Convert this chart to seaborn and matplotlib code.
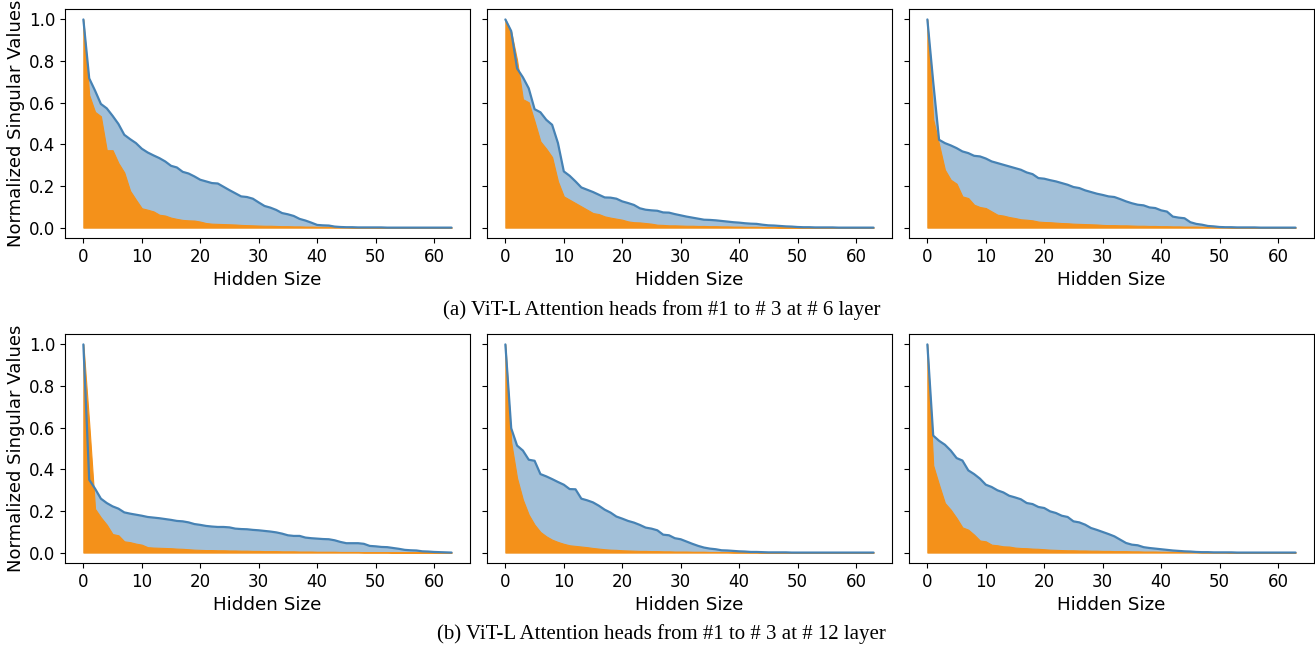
import numpy as np
import matplotlib
matplotlib.use("Agg")
import matplotlib.pyplot as plt
import seaborn as sns

# индексы скрытой размерности
hidden = list(range(64))

# (a) слой 6, головы 1-3: синие (исходные) и оранжевые значения
l6_h1_blue = [1.0, 0.717, 0.658, 0.594, 0.573, 0.537, 0.498, 0.446, 0.425, 0.406,
              0.379, 0.361, 0.347, 0.334, 0.318, 0.297, 0.289, 0.268, 0.260, 0.246,
              0.230, 0.222, 0.214, 0.212, 0.196, 0.180, 0.165, 0.150, 0.147, 0.139,
              0.121, 0.104, 0.096, 0.085, 0.070, 0.064, 0.056, 0.042, 0.034, 0.024,
              0.013, 0.011, 0.010, 0.005, 0.003, 0.002, 0.002, 0.001, 0.001, 0.001,
              0.001, 0.001, 0.0, 0.0, 0.0, 0.0, 0.0, 0.0, 0.0, 0.0,
              0.0, 0.0, 0.0, 0.0]
l6_h1_orange = [1.0, 0.637, 0.556, 0.535, 0.372, 0.372, 0.310, 0.265, 0.177, 0.134,
                0.093, 0.086, 0.078, 0.062, 0.058, 0.048, 0.042, 0.037, 0.035, 0.034,
                0.029, 0.022, 0.019, 0.018, 0.017, 0.016, 0.015, 0.013, 0.012, 0.011,
                0.010, 0.009, 0.009, 0.008, 0.007, 0.007, 0.006, 0.006, 0.005, 0.005,
                0.004, 0.004, 0.004, 0.003, 0.003, 0.003, 0.002, 0.002, 0.002, 0.002,
                0.002, 0.001, 0.001, 0.001, 0.001, 0.001, 0.001, 0.001, 0.001, 0.0,
                0.0, 0.0, 0.0, 0.0]

l6_h2_blue = [1.0, 0.944, 0.765, 0.722, 0.669, 0.569, 0.554, 0.518, 0.494, 0.406,
              0.270, 0.249, 0.222, 0.193, 0.182, 0.171, 0.158, 0.145, 0.144, 0.139,
              0.126, 0.118, 0.109, 0.093, 0.086, 0.083, 0.081, 0.073, 0.072, 0.065,
              0.059, 0.053, 0.048, 0.043, 0.038, 0.037, 0.035, 0.032, 0.029, 0.026,
              0.024, 0.021, 0.019, 0.018, 0.014, 0.011, 0.010, 0.008, 0.006, 0.005,
              0.003, 0.002, 0.002, 0.001, 0.001, 0.001, 0.001, 0.0, 0.0, 0.0,
              0.0, 0.0, 0.0, 0.0]
l6_h2_orange = [1.0, 0.940, 0.805, 0.617, 0.602, 0.510, 0.414, 0.379, 0.339, 0.222,
                0.150, 0.134, 0.118, 0.102, 0.086, 0.070, 0.065, 0.054, 0.048, 0.043,
                0.038, 0.030, 0.026, 0.025, 0.022, 0.019, 0.014, 0.013, 0.011, 0.011,
                0.010, 0.009, 0.009, 0.008, 0.008, 0.007, 0.007, 0.006, 0.006, 0.005,
                0.005, 0.004, 0.004, 0.004, 0.003, 0.003, 0.003, 0.002, 0.002, 0.002,
                0.002, 0.001, 0.001, 0.001, 0.001, 0.001, 0.001, 0.001, 0.0, 0.0,
                0.0, 0.0, 0.0, 0.0]

l6_h3_blue = [1.0, 0.700, 0.422, 0.406, 0.395, 0.382, 0.366, 0.358, 0.345, 0.342,
              0.332, 0.318, 0.310, 0.302, 0.294, 0.286, 0.278, 0.265, 0.257, 0.238,
              0.235, 0.228, 0.222, 0.214, 0.206, 0.195, 0.190, 0.179, 0.171, 0.163,
              0.157, 0.150, 0.147, 0.137, 0.126, 0.117, 0.110, 0.107, 0.097, 0.094,
              0.083, 0.077, 0.053, 0.048, 0.045, 0.026, 0.018, 0.014, 0.008, 0.006,
              0.003, 0.002, 0.002, 0.001, 0.001, 0.001, 0.001, 0.0, 0.0, 0.0,
              0.0, 0.0, 0.0, 0.0]
l6_h3_orange = [1.0, 0.520, 0.400, 0.278, 0.230, 0.211, 0.150, 0.142, 0.110, 0.099,
                0.094, 0.078, 0.062, 0.058, 0.051, 0.046, 0.040, 0.038, 0.035, 0.029,
                0.027, 0.026, 0.024, 0.022, 0.021, 0.019, 0.018, 0.017, 0.016, 0.015,
                0.013, 0.012, 0.012, 0.011, 0.011, 0.010, 0.009, 0.009, 0.008, 0.008,
                0.007, 0.007, 0.006, 0.006, 0.005, 0.005, 0.005, 0.004, 0.004, 0.003,
                0.003, 0.003, 0.002, 0.002, 0.002, 0.002, 0.001, 0.001, 0.001, 0.001,
                0.001, 0.0, 0.0, 0.0]

# (b) слой 12, головы 1-3
l12_h1_blue = [1.0, 0.350, 0.307, 0.259, 0.238, 0.222, 0.211, 0.193, 0.187, 0.182,
               0.177, 0.171, 0.168, 0.165, 0.161, 0.157, 0.152, 0.150, 0.145, 0.137,
               0.133, 0.128, 0.125, 0.123, 0.123, 0.121, 0.115, 0.113, 0.112, 0.109,
               0.107, 0.104, 0.101, 0.097, 0.091, 0.083, 0.080, 0.080, 0.072, 0.069,
               0.067, 0.065, 0.064, 0.059, 0.051, 0.045, 0.045, 0.045, 0.042, 0.032,
               0.030, 0.027, 0.026, 0.022, 0.018, 0.013, 0.011, 0.010, 0.006, 0.005,
               0.003, 0.002, 0.001, 0.0]
l12_h1_orange = [1.0, 0.620, 0.210, 0.169, 0.134, 0.089, 0.083, 0.054, 0.050, 0.043,
                 0.038, 0.026, 0.024, 0.023, 0.022, 0.021, 0.019, 0.018, 0.016, 0.014,
                 0.013, 0.012, 0.012, 0.011, 0.011, 0.010, 0.010, 0.009, 0.009, 0.008,
                 0.008, 0.007, 0.007, 0.007, 0.006, 0.006, 0.006, 0.005, 0.005, 0.005,
                 0.004, 0.004, 0.004, 0.004, 0.003, 0.003, 0.003, 0.003, 0.002, 0.002,
                 0.002, 0.002, 0.002, 0.001, 0.001, 0.001, 0.001, 0.001, 0.001, 0.001,
                 0.001, 0.0, 0.0, 0.0]

l12_h2_blue = [1.0, 0.597, 0.514, 0.490, 0.446, 0.441, 0.377, 0.366, 0.353, 0.339,
               0.326, 0.305, 0.304, 0.259, 0.251, 0.241, 0.225, 0.206, 0.192, 0.173,
               0.163, 0.152, 0.144, 0.133, 0.120, 0.115, 0.107, 0.086, 0.083, 0.069,
               0.064, 0.053, 0.042, 0.032, 0.024, 0.019, 0.016, 0.011, 0.010, 0.008,
               0.006, 0.005, 0.003, 0.003, 0.002, 0.001, 0.001, 0.001, 0.001, 0.0,
               0.0, 0.0, 0.0, 0.0, 0.0, 0.0, 0.0, 0.0, 0.0, 0.0,
               0.0, 0.0, 0.0, 0.0]
l12_h2_orange = [1.0, 0.530, 0.358, 0.254, 0.182, 0.134, 0.099, 0.078, 0.062, 0.051,
                 0.042, 0.035, 0.032, 0.029, 0.026, 0.022, 0.019, 0.016, 0.014, 0.013,
                 0.011, 0.010, 0.009, 0.008, 0.008, 0.007, 0.007, 0.006, 0.006, 0.005,
                 0.005, 0.005, 0.004, 0.004, 0.004, 0.003, 0.003, 0.003, 0.003, 0.002,
                 0.002, 0.002, 0.002, 0.002, 0.001, 0.001, 0.001, 0.001, 0.001, 0.001,
                 0.001, 0.0, 0.0, 0.0, 0.0, 0.0, 0.0, 0.0, 0.0, 0.0,
                 0.0, 0.0, 0.0, 0.0]

l12_h3_blue = [1.0, 0.562, 0.537, 0.518, 0.490, 0.454, 0.442, 0.395, 0.377, 0.355,
               0.326, 0.315, 0.299, 0.289, 0.273, 0.265, 0.256, 0.238, 0.233, 0.219,
               0.214, 0.198, 0.190, 0.177, 0.171, 0.150, 0.145, 0.134, 0.118, 0.109,
               0.099, 0.089, 0.078, 0.062, 0.046, 0.038, 0.035, 0.026, 0.022, 0.019,
               0.016, 0.013, 0.010, 0.008, 0.006, 0.005, 0.003, 0.002, 0.002, 0.001,
               0.001, 0.001, 0.001, 0.0, 0.0, 0.0, 0.0, 0.0, 0.0, 0.0,
               0.0, 0.0, 0.0, 0.0]
l12_h3_orange = [1.0, 0.419, 0.326, 0.238, 0.206, 0.166, 0.121, 0.110, 0.086, 0.058,
                 0.054, 0.038, 0.035, 0.030, 0.029, 0.024, 0.022, 0.021, 0.019, 0.018,
                 0.016, 0.014, 0.013, 0.012, 0.011, 0.011, 0.010, 0.010, 0.009, 0.009,
                 0.008, 0.008, 0.007, 0.007, 0.007, 0.006, 0.006, 0.005, 0.005, 0.005,
                 0.004, 0.004, 0.004, 0.003, 0.003, 0.003, 0.003, 0.002, 0.002, 0.002,
                 0.002, 0.002, 0.001, 0.001, 0.001, 0.001, 0.001, 0.001, 0.0, 0.0,
                 0.0, 0.0, 0.0, 0.0]

captions = ["(a) ViT-L Attention heads from #1 to # 3 at # 6 layer",
            "(b) ViT-L Attention heads from #1 to # 3 at # 12 layer"]

panels = [[(l6_h1_blue, l6_h1_orange), (l6_h2_blue, l6_h2_orange), (l6_h3_blue, l6_h3_orange)],
          [(l12_h1_blue, l12_h1_orange), (l12_h2_blue, l12_h2_orange), (l12_h3_blue, l12_h3_orange)]]

sns.set_style("ticks")
plt.rcParams['font.family'] = ['DejaVu Sans']
plt.rcParams['axes.edgecolor'] = 'black'
plt.rcParams['text.color'] = 'black'
plt.rcParams['axes.labelcolor'] = 'black'
plt.rcParams['xtick.color'] = 'black'
plt.rcParams['ytick.color'] = 'black'

blue = 'steelblue'
orange = '#f4911a'

fig, axes = plt.subplots(2, 3, figsize=(13.15, 6.46), dpi=100, sharey=True)
plt.subplots_adjust(left=0.0494, right=0.9992, top=0.986, bottom=0.1285,
                    wspace=0.042, hspace=0.419)

for r in range(2):
    for c in range(3):
        ax = axes[r, c]
        b, o = panels[r][c]
        ax.fill_between(hidden, b, color=blue, alpha=0.5, linewidth=0)
        sns.lineplot(x=hidden, y=b, ax=ax, color=blue, linewidth=1.6)
        ax.fill_between(hidden, o, color=orange, linewidth=0.8)
        ax.set_xlabel("Hidden Size", fontsize=13.2)
        ax.set_xticks([0, 10, 20, 30, 40, 50, 60])
        ax.set_yticks([0.0, 0.2, 0.4, 0.6, 0.8, 1.0])
        ax.tick_params(labelsize=12)
        if c == 0:
            ax.set_ylabel("Normalized Singular Values", fontsize=13, labelpad=3)

fig.text(0.503, 0.520, captions[0], ha='center', va='center',
         fontsize=15, family='Liberation Serif')
fig.text(0.503, 0.019, captions[1], ha='center', va='center',
         fontsize=15, family='Liberation Serif')

plt.savefig('out.png', dpi=100)
